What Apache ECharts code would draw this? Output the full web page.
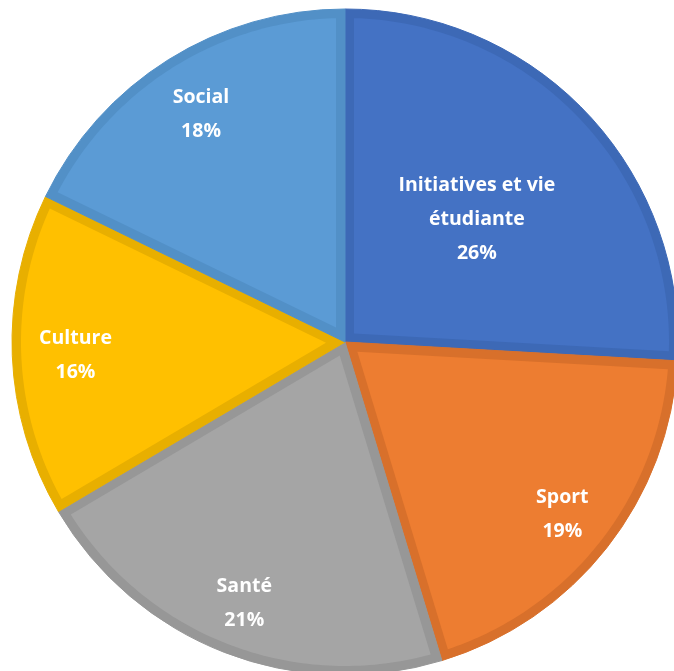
<!DOCTYPE html>
<html style="height: 100%">

<head>
    <meta charset="utf-8">
    <title>Répartition</title>
</head>

<body style="height: 100%; margin: 0;">
    <div id="container" style="width: 674px; height: 671px;"></div>
    <script src="https://cdn.jsdelivr.net/npm/echarts/dist/echarts.min.js"></script>
    <script type="text/javascript">
        // data
        var categories = ['Initiatives et vie\nétudiante', 'Sport', 'Santé', 'Culture', 'Social'];
        var values = [25.9, 19.4, 21.2, 15.7, 17.8];
        var fillColors = ['#4472C4', '#ED7D31', '#A5A5A5', '#FFC000', '#5B9BD5'];
        var edgeColors = ['#3D69B6', '#D8702B', '#979797', '#E8AF00', '#5290C7'];
        // how far out each label sits, as a share of the radius
        var labelRadius = [0.545, 0.83, 0.835, 0.81, 0.815];

        var CENTER = [345, 342];
        var RADIUS = 333;
        var BAND = 9;   // width of the darker edge inside each slice

        var dom = document.getElementById("container");
        var myChart = echarts.init(dom);

        var total = 0;
        for (var i = 0; i < values.length; i++) total += values[i];

        function pt(a, r) {
            return [CENTER[0] + r * Math.sin(a), CENTER[1] - r * Math.cos(a)];
        }

        function sliceAngles(idx) {
            var before = 0;
            for (var j = 0; j < idx; j++) before += values[j];
            return [before / total * Math.PI * 2, (before + values[idx]) / total * Math.PI * 2];
        }

        // each slice: a dark sector with a lighter slice inset by BAND on every side
        function renderSlice(params, api) {
            var idx = params.dataIndex;
            var ang = sliceAngles(idx);
            var a0 = ang[0], a1 = ang[1];
            var half = (a1 - a0) / 2;
            var apex = pt(a0 + half, BAND / Math.sin(half));
            var rIn = RADIUS - BAND;
            var delta = Math.asin(BAND / rIn);
            var pts = [apex];
            var steps = 80;
            for (var k = 0; k <= steps; k++) {
                var a = a0 + delta + (a1 - a0 - 2 * delta) * k / steps;
                pts.push(pt(a, rIn));
            }
            return {
                type: 'group',
                children: [{
                    type: 'sector',
                    shape: {
                        cx: CENTER[0], cy: CENTER[1], r: RADIUS, r0: 0,
                        startAngle: a0 - Math.PI / 2, endAngle: a1 - Math.PI / 2, clockwise: true
                    },
                    style: { fill: edgeColors[idx], stroke: edgeColors[idx], lineWidth: 1 }
                }, {
                    type: 'polygon',
                    shape: { points: pts },
                    style: { fill: fillColors[idx] }
                }]
            };
        }

        var sliceData = [];
        var labelData = [];
        for (var i = 0; i < categories.length; i++) {
            sliceData.push([values[i]]);
            labelData.push({ name: categories[i], value: values[i] });
        }

        var option = {
            backgroundColor: '#ffffff',
            animation: false,
            series: [{
                type: 'custom',
                coordinateSystem: 'none',
                renderItem: renderSlice,
                data: sliceData,
                silent: true
            }, {
                // transparent pie on top, only for the labels and percentages
                type: 'pie',
                center: CENTER,
                radius: RADIUS,
                startAngle: 90,
                clockwise: true,
                percentPrecision: 0,
                silent: true,
                itemStyle: { color: 'rgba(0,0,0,0)', borderWidth: 0 },
                label: {
                    show: true,
                    position: 'inside',
                    formatter: '{b}\n{d}%',
                    color: '#ffffff',
                    fontFamily: 'Open Sans',
                    fontWeight: 'bold',
                    fontSize: 19.5,
                    lineHeight: 34,
                    align: 'center',
                    verticalAlign: 'middle'
                },
                labelLine: { show: false },
                // put each label on its slice's middle ray, at its own distance
                labelLayout: function (params) {
                    var ang = sliceAngles(params.dataIndex);
                    var p = pt((ang[0] + ang[1]) / 2, labelRadius[params.dataIndex] * RADIUS);
                    return { x: p[0], y: p[1] + 2, align: 'center', verticalAlign: 'middle' };
                },
                data: labelData
            }]
        };
        myChart.setOption(option);
    </script>
</body>

</html>
